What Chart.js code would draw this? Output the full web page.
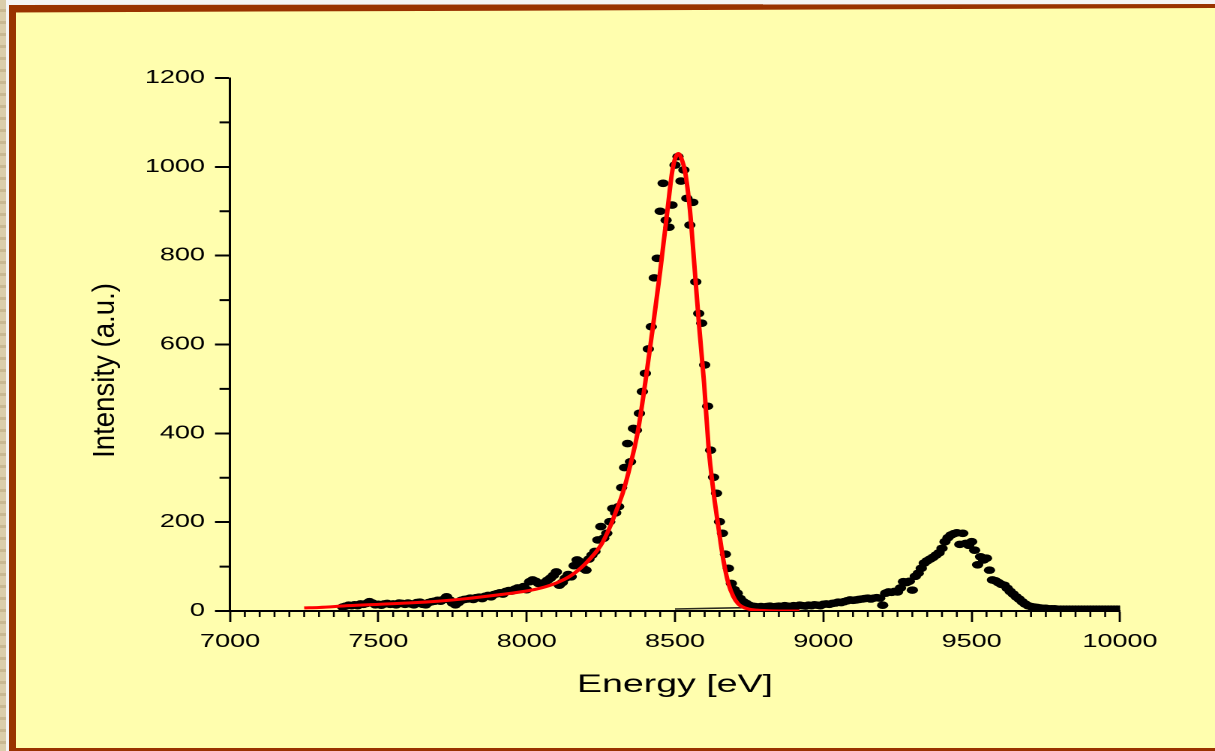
<!DOCTYPE html>
<html>
<head>
<meta charset="utf-8">
<script src="https://cdn.jsdelivr.net/npm/chart.js@4.4.1/dist/chart.umd.min.js"></script>
<style>
    html, body {
        margin: 0;
        padding: 0;
        width: 1215px;
        height: 751px;
        overflow: hidden;
        background: #f4f4f4;
    }
    #strip {
        position: absolute;
        left: 0;
        top: 0;
        width: 6px;
        height: 751px;
        background: repeating-linear-gradient(to bottom, #dacdaa 0 9px, #c8b892 9px 12px);
    }
    #panel {
        position: absolute;
        left: 9px;
        top: 5px;
        width: 1206px;
        height: 746px;
        background: #fffeae;
    }
    #borderTop {
        position: absolute;
        left: 9px;
        top: 0;
        width: 1206px;
        height: 14px;
        background: #993300;
        clip-path: polygon(0 5px, 100% 4px, 100% 8px, 0 12.5px);
    }
    #borderLeft {
        position: absolute;
        left: 9px;
        top: 5px;
        width: 7px;
        height: 746px;
        background: #993300;
    }
    #borderBottom {
        position: absolute;
        left: 9px;
        top: 748px;
        width: 1206px;
        height: 3px;
        background: #993300;
    }
    #chart {
        position: absolute;
        left: 0;
        top: 0;
        width: 1215px;
        height: 751px;
    }
</style>
</head>
<body>
<div id="strip"></div>
<div id="panel"></div>
<div id="borderTop"></div>
<div id="borderLeft"></div>
<div id="borderBottom"></div>
<canvas id="chart" width="810" height="751" style="width:1215px;height:751px"></canvas>
<script>
// axis ticks
const xTickValues = [7000, 7500, 8000, 8500, 9000, 9500, 10000];
const yTickValues = [0, 200, 400, 600, 800, 1000, 1200];
const xMinorStep = 50;
const yMinorStep = 100;

const xTitle = "Energy [eV]";
const yTitle = "Intensity (a.u.)";

// measured points (black dots), one every 10 eV starting at 7380 eV
const dotStartEnergy = 7380;
const dotStepEnergy = 10;
const dotIntensity = [
    9, 11, 13, 12, 14, 12, 16, 15, 17, 21, 18, 14,
    15, 13, 16, 17, 15, 16, 14, 18, 17, 15,
    18, 16, 14, 19, 20, 15, 14, 19, 21, 22,
    24, 22, 26, 32, 25, 18, 14, 19, 24, 26,
    27, 29, 26, 30, 31, 28, 33, 35, 32, 37,
    39, 41, 38, 44, 46, 45, 49, 52, 50, 55,
    48, 66, 70, 67, 62, 60, 64, 69, 74, 80,
    88, 58, 64, 74, 82, 77, 102, 115, 111, 96,
    92, 117, 126, 134, 160, 190, 164, 175, 201, 231,
    221, 235, 278, 323, 377, 336, 411, 407, 445, 494,
    535, 590, 640, 750, 794, 900, 963, 880, 864, 914,
    1004, 1023, 968, 993, 929, 869, 920, 741, 670, 648,
    554, 461, 362, 301, 265, 201, 175, 128, 96, 62,
    48, 40, 28, 21, 17, 13, 11, 10, 9, 10,
    9, 10, 11, 9, 10, 11, 10, 12, 11, 10,
    12, 11, 13, 12, 11, 13, 12, 14, 13, 12,
    15, 16, 15, 17, 18, 20, 19, 21, 23, 25,
    24, 25, 26, 27, 28, 29, 27, 29, 30, 29,
    13, 40, 43, 42, 44, 43, 52, 66, 64, 67,
    47, 78, 85, 96, 108, 113, 117, 121, 126, 131,
    141, 156, 165, 171, 174, 176, 150, 175, 152, 148,
    156, 137, 104, 122, 115, 119, 92, 70, 68, 64,
    60, 58, 51, 44, 38, 32, 27, 21, 16, 12,
    10, 9, 8, 7, 6, 6, 5, 5, 5, 4,
    4, 4, 4, 4, 4, 4, 4, 4, 4, 4,
    4, 4, 4, 4, 4, 4, 4, 4, 4, 4,
    4,
];

// fitted curve (red)
const fitEnergy = [
    7250, 7300, 7400, 7500, 7600, 7700, 7800, 7900, 8000, 8050,
    8100, 8150, 8200, 8250, 8280, 8300, 8325, 8350, 8375, 8400,
    8425, 8450, 8475, 8490, 8500, 8511, 8522, 8534, 8550, 8567,
    8581, 8598, 8613, 8629, 8646, 8663, 8680, 8697, 8712, 8725,
    8750, 8775, 8800, 8850, 8920,
];
const fitIntensity = [
    7, 8, 12, 15, 18, 22, 28, 36, 45, 52,
    63, 80, 108, 148, 188, 222, 268, 330, 405, 515,
    637, 765, 905, 987, 1018, 1030, 1018, 989, 905, 764,
    644, 513, 370, 272, 190, 115, 62, 32, 17, 10,
    4, 2, 1, 0, 0,
];

// short dark baseline segment under the peak
const baseEnergy = [8500, 8730];
const baseIntensity = [4.5, 7.5];

const fontFamily = '"Liberation Sans", Arial, sans-serif';

const dotPoints = dotIntensity.map((v, i) => ({ x: dotStartEnergy + i * dotStepEnergy, y: v }));
const fitPoints = fitEnergy.map((e, i) => ({ x: e, y: fitIntensity[i] }));
const basePoints = baseEnergy.map((e, i) => ({ x: e, y: baseIntensity[i] }));

const axisDecor = {
    id: "axisDecor",
    afterDraw(chart) {
        const { ctx } = chart;
        const x = chart.scales.x;
        const y = chart.scales.y;
        const xMin = xTickValues[0];
        const xMax = xTickValues[xTickValues.length - 1];
        const yMin = yTickValues[0];
        const yMax = yTickValues[yTickValues.length - 1];

        ctx.save();
        ctx.strokeStyle = "#000";

        // minor ticks on x, pointing down
        ctx.lineWidth = 1.3;
        ctx.beginPath();
        for (let v = xMin + xMinorStep; v < xMax; v += xMinorStep) {
            if (xTickValues.includes(v)) {
                continue;
            }
            const px = x.getPixelForValue(v);
            ctx.moveTo(px, x.top);
            ctx.lineTo(px, x.top + 6);
        }
        ctx.stroke();

        // minor ticks on y, pointing left
        ctx.lineWidth = 2;
        ctx.beginPath();
        for (let v = yMin + yMinorStep; v < yMax; v += yMinorStep) {
            if (yTickValues.includes(v)) {
                continue;
            }
            const py = y.getPixelForValue(v);
            ctx.moveTo(y.right, py);
            ctx.lineTo(y.right - 7, py);
        }
        ctx.stroke();

        // y title, drawn narrow and tall like the source
        ctx.fillStyle = "#000";
        ctx.font = `20px ${fontFamily}`;
        ctx.textAlign = "center";
        ctx.textBaseline = "middle";
        ctx.translate(70.7, 370.5);
        ctx.rotate(-Math.PI / 2);
        ctx.scale(1.38, 1);
        ctx.fillText(yTitle, 0, 0);
        ctx.restore();
    },
};

new Chart(document.getElementById("chart"), {
    type: "scatter",
    data: {
        datasets: [
            {
                label: "Fit",
                data: fitPoints,
                showLine: true,
                borderColor: "#ff0000",
                borderWidth: 3,
                pointRadius: 0,
                cubicInterpolationMode: "monotone",
                order: 0,
            },
            {
                label: "Data",
                data: dotPoints,
                pointRadius: 3.8,
                pointBackgroundColor: "#000",
                pointBorderWidth: 0,
                showLine: false,
                order: 1,
            },
            {
                label: "Baseline",
                data: basePoints,
                showLine: true,
                borderColor: "#2b2b1e",
                borderWidth: 1.6,
                pointRadius: 0,
                order: 2,
            },
        ],
    },
    options: {
        responsive: false,
        devicePixelRatio: 2,
        animation: false,
        events: [],
        layout: { padding: { left: 0, top: 78, right: 63.33, bottom: 0 } },
        plugins: { legend: { display: false }, tooltip: { enabled: false } },
        scales: {
            x: {
                type: "linear",
                position: "bottom",
                min: xTickValues[0],
                max: xTickValues[xTickValues.length - 1],
                afterFit(scale) {
                    scale.height = 140;
                },
                afterBuildTicks(scale) {
                    scale.ticks = xTickValues.map((v) => ({ value: v }));
                },
                ticks: {
                    color: "#000",
                    font: { family: fontFamily, size: 18 },
                    padding: 9,
                    maxRotation: 0,
                    autoSkip: false,
                    callback: (value) => String(value),
                },
                grid: {
                    display: true,
                    drawOnChartArea: false,
                    drawTicks: true,
                    tickLength: 11,
                    tickColor: "#000",
                    tickWidth: 1.4,
                },
                border: { display: true, color: "#000", width: 2 },
                title: {
                    display: true,
                    text: xTitle,
                    color: "#000",
                    font: { family: fontFamily, size: 25 },
                    padding: { top: 0, bottom: 51 },
                },
            },
            y: {
                type: "linear",
                position: "left",
                min: yTickValues[0],
                max: yTickValues[yTickValues.length - 1],
                afterFit(scale) {
                    scale.width = 153.33;
                },
                afterBuildTicks(scale) {
                    scale.ticks = yTickValues.map((v) => ({ value: v }));
                },
                ticks: {
                    color: "#000",
                    font: { family: fontFamily, size: 18 },
                    padding: 6.7,
                    callback: (value) => String(value),
                },
                grid: {
                    display: true,
                    drawOnChartArea: false,
                    drawTicks: true,
                    tickLength: 10,
                    tickColor: "#000",
                    tickWidth: 2,
                },
                border: { display: true, color: "#000", width: 1.5 },
            },
        },
    },
    plugins: [axisDecor],
});
</script>
</body>
</html>
